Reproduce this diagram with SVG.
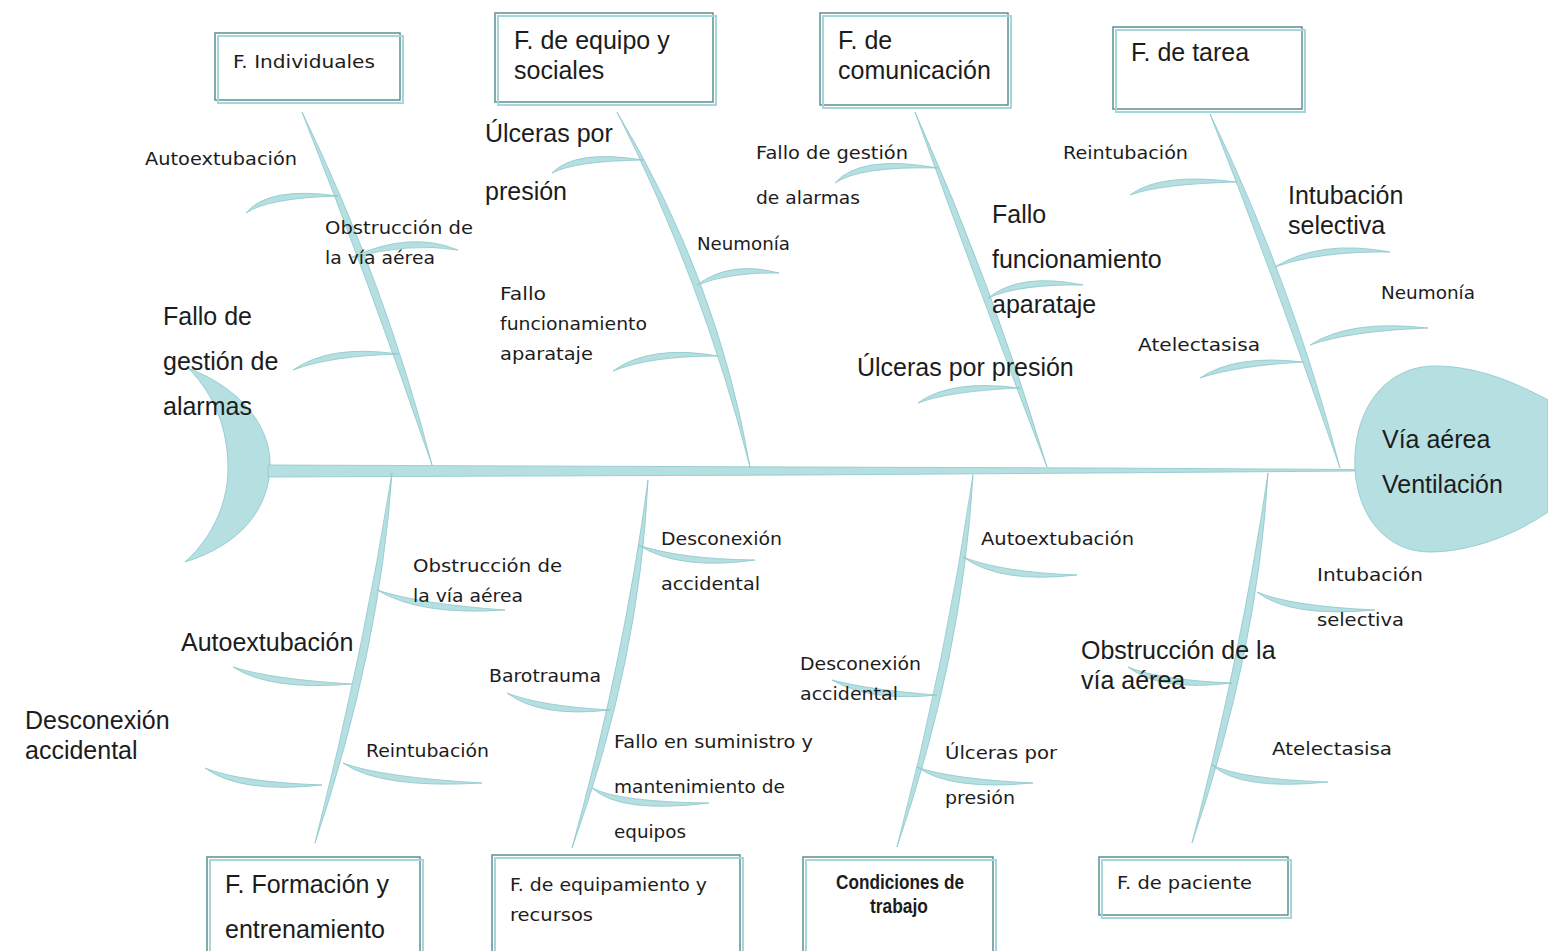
<svg xmlns="http://www.w3.org/2000/svg" width="1548" height="951" viewBox="0 0 1548 951">
<style>
.f{fill:#b6dfe2;stroke:#8cc6ca;stroke-width:0.8}
.bx1{fill:none;stroke:#a6d6da;stroke-width:2}
.bx2{fill:#fff;stroke:#5f8f90;stroke-width:1.5}
.a{font-family:"Liberation Sans",Arial,sans-serif;font-size:25px;fill:#1c1c1c}
.c{font-family:"DejaVu Sans","Noto Sans",sans-serif;font-size:18px;fill:#1c1c1c}
.n{font-family:"Liberation Sans",Arial,sans-serif;font-size:21px;font-weight:bold;fill:#1c1c1c}
</style>
<rect width="1548" height="951" fill="#fff"/>
<g id="connectors">
<path id="tail" class="f" d="M188,368 C245,390 272,430 270,468 C268,510 240,545 185,562 C215,535 228,500 228,468 C228,430 215,395 188,368 Z"/>
<path id="spine" class="f" d="M268,465 L800,467 L1100,468 L1355,469.5 L1355,471 L1100,473 L800,475 L268,477 Z"/>
<path class="f" d="M302,112 Q370,285 432,465 Q386,285 302,112 Z"/>
<path class="f" d="M617,112 Q702,280 750,467 Q718,280 617,112 Z"/>
<path class="f" d="M915,112 Q977,285 1047,467 Q993,285 915,112 Z"/>
<path class="f" d="M1210,114 Q1277,285 1340,468 Q1293,285 1210,114 Z"/>
<path class="f" d="M392,473 Q364,650 315,843 Q380,650 392,473 Z"/>
<path class="f" d="M648,480 Q624,660 572,848 Q640,660 648,480 Z"/>
<path class="f" d="M973,475 Q947,655 897,847 Q963,655 973,475 Z"/>
<path class="f" d="M1268,473 Q1242,650 1192,843 Q1258,650 1268,473 Z"/>
<path class="f" d="M338,196 Q268,186 246,213 Q268,198 338,196 Z"/>
<path class="f" d="M350,258 Q410,230 458,250 Q410,242 350,258 Z"/>
<path class="f" d="M398,354 Q330,344 293,370 Q330,356 398,354 Z"/>
<path class="f" d="M643,160 Q575,149 552,173 Q575,161 643,160 Z"/>
<path class="f" d="M697,285 Q730,260 779,273 Q730,272 697,285 Z"/>
<path class="f" d="M718,356 Q650,344 613,371 Q650,356 718,356 Z"/>
<path class="f" d="M938,168 Q860,154 835,183 Q860,166 938,168 Z"/>
<path class="f" d="M988,298 Q1020,272 1083,285 Q1020,284 988,298 Z"/>
<path class="f" d="M1020,388 Q950,379 918,403 Q950,391 1020,388 Z"/>
<path class="f" d="M1237,182 Q1160,172 1130,195 Q1160,184 1237,182 Z"/>
<path class="f" d="M1275,267 Q1320,239 1390,252 Q1320,251 1275,267 Z"/>
<path class="f" d="M1310,345 Q1350,319 1428,328 Q1350,331 1310,345 Z"/>
<path class="f" d="M1303,362 Q1235,354 1200,378 Q1235,366 1303,362 Z"/>
<path class="f" d="M377,590 Q420,604 505,610 Q420,616 377,590 Z"/>
<path class="f" d="M352,684 Q270,679 233,667 Q270,691 352,684 Z"/>
<path class="f" d="M343,763 Q380,777 482,783 Q380,789 343,763 Z"/>
<path class="f" d="M322,785 Q240,782 205,768 Q240,794 322,785 Z"/>
<path class="f" d="M638,545 Q680,559 755,560 Q680,571 638,545 Z"/>
<path class="f" d="M610,710 Q540,706 507,693 Q540,718 610,710 Z"/>
<path class="f" d="M592,788 Q620,802 709,803 Q620,814 592,788 Z"/>
<path class="f" d="M963,557 Q1000,572 1077,575 Q1000,584 963,557 Z"/>
<path class="f" d="M937,695 Q870,690 832,680 Q870,702 937,695 Z"/>
<path class="f" d="M917,767 Q950,779 1033,783 Q950,791 917,767 Z"/>
<path class="f" d="M1257,592 Q1290,606 1375,610 Q1290,618 1257,592 Z"/>
<path class="f" d="M1232,683 Q1160,680 1128,667 Q1160,692 1232,683 Z"/>
<path class="f" d="M1212,765 Q1240,779 1328,782 Q1240,791 1212,765 Z"/>
</g>
<g id="head">
<path class="f" d="M1355,470 C1352,410 1385,366 1435,366 C1480,366 1520,385 1548,400 L1548,512 C1515,535 1470,552 1430,552 C1385,552 1358,515 1355,470 Z"/>
<text class="a" x="1382" y="448">Vía aérea</text>
<text class="a" x="1382" y="493">Ventilación</text>
</g>
<g id="box-individuales">
<rect class="bx2" x="215" y="33" width="185" height="67"/>
<rect class="bx1" x="218" y="36" width="185" height="67"/>
<text class="c" x="233" y="68" textLength="142" lengthAdjust="spacingAndGlyphs">F. Individuales</text>
</g>
<g id="box-equipo">
<rect class="bx2" x="495" y="13" width="218" height="89"/>
<rect class="bx1" x="498" y="16" width="218" height="89"/>
<text class="a" x="514" y="49">F. de equipo y</text>
<text class="a" x="514" y="79">sociales</text>
</g>
<g id="box-comunicacion">
<rect class="bx2" x="820" y="13" width="188" height="92"/>
<rect class="bx1" x="823" y="16" width="188" height="92"/>
<text class="a" x="838" y="49">F. de</text>
<text class="a" x="838" y="79">comunicación</text>
</g>
<g id="box-tarea">
<rect class="bx2" x="1113" y="27" width="189" height="82"/>
<rect class="bx1" x="1116" y="30" width="189" height="82"/>
<text class="a" x="1131" y="61">F. de tarea</text>
</g>
<g id="box-formacion">
<rect class="bx2" x="207" y="857" width="213" height="100"/>
<rect class="bx1" x="210" y="860" width="213" height="100"/>
<text class="a" x="225" y="893">F. Formación y</text>
<text class="a" x="225" y="938">entrenamiento</text>
</g>
<g id="box-equipamiento">
<rect class="bx2" x="492" y="855" width="248" height="102"/>
<rect class="bx1" x="495" y="858" width="248" height="102"/>
<text class="c" x="510" y="891" textLength="197" lengthAdjust="spacingAndGlyphs">F. de equipamiento y</text>
<text class="c" x="510" y="921" textLength="83" lengthAdjust="spacingAndGlyphs">recursos</text>
</g>
<g id="box-condiciones">
<rect class="bx2" x="803" y="857" width="190" height="100"/>
<rect class="bx1" x="806" y="860" width="190" height="100"/>
<text class="n" x="836" y="889" textLength="128" lengthAdjust="spacingAndGlyphs">Condiciones de</text>
<text class="n" x="870" y="913" textLength="58" lengthAdjust="spacingAndGlyphs">trabajo</text>
</g>
<g id="box-paciente">
<rect class="bx2" x="1099" y="857" width="189" height="58"/>
<rect class="bx1" x="1102" y="860" width="189" height="58"/>
<text class="c" x="1117" y="889" textLength="135" lengthAdjust="spacingAndGlyphs">F. de paciente</text>
</g>
<g id="labels-individuales">
<text class="c" x="145" y="165" textLength="152" lengthAdjust="spacingAndGlyphs">Autoextubación</text>
<text class="c" x="325" y="234" textLength="148" lengthAdjust="spacingAndGlyphs">Obstrucción de</text>
<text class="c" x="325" y="264" textLength="110" lengthAdjust="spacingAndGlyphs">la vía aérea</text>
<text class="a" x="163" y="325">Fallo de</text>
<text class="a" x="163" y="370">gestión de</text>
<text class="a" x="163" y="415">alarmas</text>
</g>
<g id="labels-equipo">
<text class="a" x="485" y="142">Úlceras por</text>
<text class="a" x="485" y="200">presión</text>
<text class="c" x="697" y="250" textLength="93" lengthAdjust="spacingAndGlyphs">Neumonía</text>
<text class="c" x="500" y="300" textLength="46" lengthAdjust="spacingAndGlyphs">Fallo</text>
<text class="c" x="500" y="330" textLength="147" lengthAdjust="spacingAndGlyphs">funcionamiento</text>
<text class="c" x="500" y="360" textLength="93" lengthAdjust="spacingAndGlyphs">aparataje</text>
</g>
<g id="labels-comunicacion">
<text class="c" x="756" y="159" textLength="152" lengthAdjust="spacingAndGlyphs">Fallo de gestión</text>
<text class="c" x="756" y="204" textLength="104" lengthAdjust="spacingAndGlyphs">de alarmas</text>
<text class="a" x="992" y="223">Fallo</text>
<text class="a" x="992" y="268">funcionamiento</text>
<text class="a" x="992" y="313">aparataje</text>
<text class="a" x="857" y="376">Úlceras por presión</text>
</g>
<g id="labels-tarea">
<text class="c" x="1063" y="159" textLength="125" lengthAdjust="spacingAndGlyphs">Reintubación</text>
<text class="a" x="1288" y="204">Intubación</text>
<text class="a" x="1288" y="234">selectiva</text>
<text class="c" x="1381" y="299" textLength="94" lengthAdjust="spacingAndGlyphs">Neumonía</text>
<text class="c" x="1138" y="351" textLength="122" lengthAdjust="spacingAndGlyphs">Atelectasisa</text>
</g>
<g id="labels-formacion">
<text class="c" x="413" y="572" textLength="149" lengthAdjust="spacingAndGlyphs">Obstrucción de</text>
<text class="c" x="413" y="602" textLength="110" lengthAdjust="spacingAndGlyphs">la vía aérea</text>
<text class="a" x="181" y="651">Autoextubación</text>
<text class="a" x="25" y="729">Desconexión</text>
<text class="a" x="25" y="759">accidental</text>
<text class="c" x="366" y="757" textLength="123" lengthAdjust="spacingAndGlyphs">Reintubación</text>
</g>
<g id="labels-equipamiento">
<text class="c" x="661" y="545" textLength="121" lengthAdjust="spacingAndGlyphs">Desconexión</text>
<text class="c" x="661" y="590" textLength="99" lengthAdjust="spacingAndGlyphs">accidental</text>
<text class="c" x="489" y="682" textLength="112" lengthAdjust="spacingAndGlyphs">Barotrauma</text>
<text class="c" x="614" y="748" textLength="199" lengthAdjust="spacingAndGlyphs">Fallo en suministro y</text>
<text class="c" x="614" y="793" textLength="171" lengthAdjust="spacingAndGlyphs">mantenimiento de</text>
<text class="c" x="614" y="838" textLength="72" lengthAdjust="spacingAndGlyphs">equipos</text>
</g>
<g id="labels-condiciones">
<text class="c" x="981" y="545" textLength="153" lengthAdjust="spacingAndGlyphs">Autoextubación</text>
<text class="c" x="800" y="670" textLength="121" lengthAdjust="spacingAndGlyphs">Desconexión</text>
<text class="c" x="800" y="700" textLength="98" lengthAdjust="spacingAndGlyphs">accidental</text>
<text class="c" x="945" y="759" textLength="112" lengthAdjust="spacingAndGlyphs">Úlceras por</text>
<text class="c" x="945" y="804" textLength="70" lengthAdjust="spacingAndGlyphs">presión</text>
</g>
<g id="labels-paciente">
<text class="c" x="1317" y="581" textLength="106" lengthAdjust="spacingAndGlyphs">Intubación</text>
<text class="c" x="1317" y="626" textLength="87" lengthAdjust="spacingAndGlyphs">selectiva</text>
<text class="a" x="1081" y="659">Obstrucción de la</text>
<text class="a" x="1081" y="689">vía aérea</text>
<text class="c" x="1272" y="755" textLength="120" lengthAdjust="spacingAndGlyphs">Atelectasisa</text>
</g>
</svg>
